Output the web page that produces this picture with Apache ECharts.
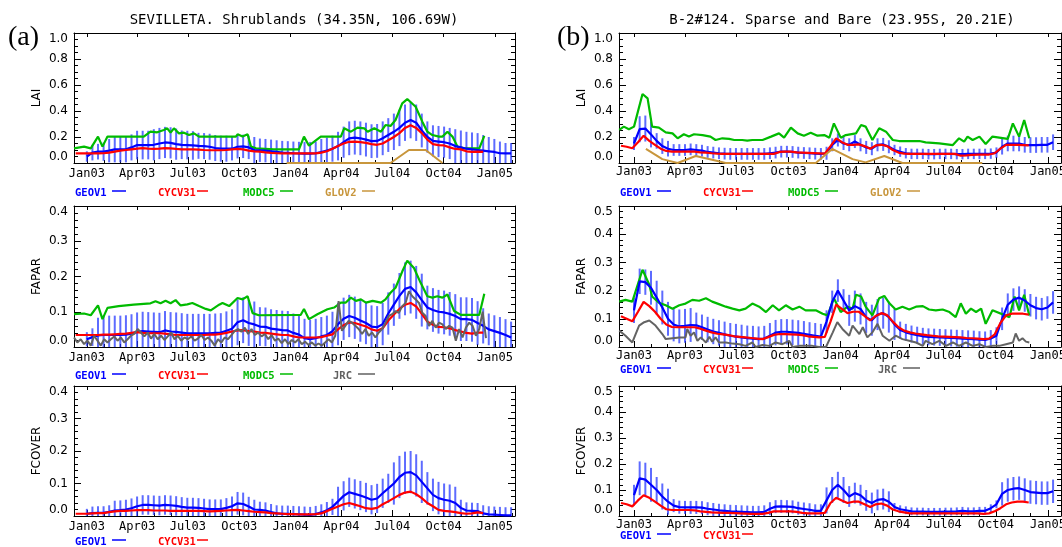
<!DOCTYPE html>
<html><head><meta charset="utf-8">
<script src="https://cdn.jsdelivr.net/npm/echarts@6/dist/echarts.min.js"></script>
<style>html,body{margin:0;padding:0;background:#fff}#c{width:1062px;height:547px}</style>
</head><body><div id="c"></div>
<script>
// ---------- axis ticks (days since 1 Jan 2003) ----------
const tickDays = [0, 90, 181, 273, 365, 456, 547, 639, 731];
const tickLabels = ['Jan03','Apr03','Jul03','Oct03','Jan04','Apr04','Jul04','Oct04','Jan05'];
const monthDays = [-31, 31, 59, 120, 151, 212, 243, 304, 334, 396, 425, 486, 517, 578, 609, 670, 700, 762];

// ---------- (a) SEVILLETA ----------
const geoLaiA = [0.05,0.08,0.087,0.087,0.095,0.105,0.105,0.105,0.12,0.138,0.138,0.138,0.14,0.15,0.158,0.155,0.145,0.14,0.138,0.135,0.132,0.13,0.125,0.115,0.11,0.11,0.11,0.125,0.128,0.12,0.1,0.098,0.095,0.09,0.085,0.08,0.078,0.075,0.073,0.072,0.072,0.075,0.085,0.095,0.11,0.13,0.16,0.19,0.195,0.19,0.18,0.168,0.17,0.19,0.215,0.24,0.27,0.31,0.33,0.31,0.25,0.2,0.17,0.165,0.16,0.15,0.13,0.12,0.11,0.105,0.1,0.095,0.09,0.085,0.075,0.074,0.074];
const geoLaiErrA = [0.04,0.06,0.06,0.07,0.09,0.1,0.1,0.1,0.1,0.11,0.11,0.11,0.12,0.12,0.12,0.12,0.12,0.11,0.11,0.11,0.1,0.1,0.1,0.1,0.1,0.1,0.09,0.09,0.09,0.09,0.1,0.09,0.09,0.09,0.09,0.09,0.09,0.09,0.09,0.09,0.09,0.09,0.1,0.1,0.1,0.11,0.12,0.13,0.13,0.13,0.13,0.13,0.13,0.13,0.13,0.14,0.14,0.14,0.14,0.14,0.13,0.12,0.12,0.12,0.12,0.12,0.13,0.13,0.13,0.13,0.13,0.12,0.11,0.1,0.09,0.08,0.08];
const cycLaiA = [0.074,0.074,0.074,0.074,0.074,0.075,0.08,0.087,0.095,0.1,0.105,0.11,0.115,0.11,0.108,0.11,0.115,0.112,0.108,0.105,0.105,0.105,0.103,0.1,0.098,0.098,0.098,0.1,0.105,0.108,0.105,0.095,0.09,0.087,0.082,0.078,0.075,0.074,0.074,0.074,0.074,0.074,0.074,0.074,0.08,0.09,0.11,0.13,0.15,0.163,0.165,0.16,0.155,0.145,0.14,0.15,0.175,0.2,0.23,0.27,0.29,0.27,0.23,0.18,0.145,0.138,0.135,0.12,0.108,0.105,0.09,0.085,0.087,0.085];
const modLaiDaysA = [-23,-5,7,20,28,37,102,114,126,138,144,150,156,165,174,183,192,201,267,270,279,288,294,303,335,380,389,398,419,455,461,473,485,497,503,515,527,535,544,553,565,574,589,601,610,619,631,637,646,655,664,676,703,712];
const modLaiA = [0.113,0.126,0.113,0.203,0.126,0.203,0.203,0.241,0.236,0.254,0.267,0.233,0.267,0.228,0.233,0.215,0.228,0.203,0.203,0.221,0.203,0.221,0.126,0.113,0.105,0.105,0.203,0.133,0.203,0.203,0.267,0.241,0.272,0.267,0.241,0.267,0.241,0.292,0.285,0.331,0.459,0.492,0.433,0.318,0.241,0.215,0.203,0.203,0.241,0.203,0.126,0.113,0.113,0.208];
const gloLaiDaysA = [358, 544, 577, 607, 637];
const gloLaiA = [0, 0, 0.1, 0.1, 0];

const geoFapA = [0.022,0.028,0.033,0.034,0.034,0.034,0.034,0.035,0.038,0.043,0.045,0.044,0.043,0.042,0.047,0.044,0.043,0.041,0.039,0.039,0.039,0.039,0.039,0.04,0.041,0.046,0.052,0.07,0.076,0.068,0.064,0.058,0.057,0.052,0.05,0.048,0.047,0.04,0.035,0.025,0.022,0.025,0.03,0.034,0.045,0.065,0.08,0.088,0.083,0.075,0.068,0.058,0.056,0.065,0.095,0.12,0.145,0.165,0.17,0.155,0.133,0.112,0.105,0.1,0.098,0.094,0.088,0.079,0.079,0.077,0.068,0.06,0.05,0.045,0.04,0.034,0.027];
const geoFapErrA = [0.02,0.025,0.05,0.055,0.055,0.055,0.055,0.055,0.055,0.055,0.055,0.055,0.055,0.055,0.055,0.055,0.055,0.055,0.055,0.055,0.055,0.055,0.055,0.055,0.055,0.055,0.055,0.065,0.065,0.065,0.065,0.055,0.055,0.055,0.055,0.055,0.055,0.055,0.055,0.055,0.055,0.055,0.055,0.055,0.055,0.06,0.06,0.06,0.06,0.06,0.06,0.06,0.06,0.06,0.06,0.06,0.065,0.075,0.075,0.075,0.075,0.062,0.062,0.062,0.062,0.062,0.062,0.062,0.062,0.062,0.062,0.05,0.045,0.045,0.045,0.045,0.045];
const cycFapA = [0.034,0.034,0.034,0.034,0.034,0.035,0.035,0.036,0.037,0.038,0.04,0.042,0.04,0.039,0.039,0.039,0.038,0.036,0.034,0.034,0.034,0.034,0.034,0.034,0.035,0.035,0.037,0.04,0.044,0.047,0.048,0.045,0.044,0.041,0.04,0.038,0.036,0.034,0.034,0.03,0.027,0.027,0.027,0.027,0.028,0.032,0.036,0.05,0.062,0.07,0.068,0.063,0.058,0.05,0.046,0.053,0.075,0.092,0.108,0.12,0.125,0.115,0.094,0.072,0.063,0.057,0.056,0.053,0.048,0.044,0.04,0.038,0.041,0.041];
const modFapDaysA = [-23,-5,7,20,28,37,57,84,114,123,132,141,150,159,168,180,189,201,213,222,237,243,255,270,279,288,297,308,383,389,398,413,431,443,455,464,473,482,491,500,512,527,535,544,553,565,574,586,598,610,619,628,637,646,658,670,703,712];
const modFapA = [0.093,0.095,0.09,0.118,0.079,0.111,0.116,0.12,0.124,0.13,0.124,0.131,0.124,0.133,0.118,0.121,0.125,0.116,0.108,0.104,0.12,0.125,0.116,0.139,0.135,0.144,0.096,0.09,0.091,0.108,0.079,0.093,0.107,0.112,0.126,0.126,0.14,0.131,0.135,0.126,0.131,0.126,0.135,0.154,0.168,0.214,0.245,0.224,0.182,0.144,0.14,0.144,0.14,0.149,0.102,0.091,0.091,0.151];
const jrcFapA = [0.027,0.013,0.022,0.008,0.018,0.004,0.032,0.018,0.004,0.022,0.013,0.022,0.03,0.018,0.027,0.013,0.022,0.032,0.037,0.051,0.041,0.03,0.041,0.024,0.037,0.022,0.032,0.02,0.03,0.041,0.022,0.032,0.018,0.027,0.022,0.03,0.018,0.024,0.034,0.02,0.027,0.018,0.004,0.022,0.013,0.027,0.022,0.034,0.046,0.051,0.043,0.055,0.037,0.051,0.034,0.041,0.03,0.037,0.022,0.034,0.018,0.024,0.011,0.022,0.008,0.02,0.013,0.022,0.008,0.015,0.006,0.013,0.004,0.01,0.004,0.013,0.022,0.013,0.032,0.13,0.046,0.06,0.074,0.069,0.06,0.051,0.037,0.051,0.032,0.041,0.027,0.041,0.051,0.069,0.088,0.093,0.102,0.097,0.116,0.125,0.158,0.144,0.135,0.125,0.097,0.088,0.06,0.074,0.055,0.069,0.064,0.051,0.06,0.055,0.018,0.051,0.027,0.055,0.069,0.06,0.032,0.051,0.1,0.025];

const geoFcvA = [0.007,0.009,0.01,0.01,0.013,0.017,0.018,0.02,0.024,0.03,0.034,0.034,0.033,0.032,0.034,0.033,0.031,0.028,0.026,0.026,0.025,0.023,0.021,0.021,0.021,0.025,0.03,0.039,0.037,0.029,0.02,0.019,0.017,0.012,0.008,0.007,0.007,0.006,0.005,0.004,0.003,0.006,0.011,0.018,0.028,0.045,0.062,0.073,0.068,0.063,0.057,0.05,0.054,0.07,0.085,0.1,0.12,0.133,0.135,0.125,0.105,0.085,0.065,0.055,0.05,0.047,0.04,0.025,0.017,0.016,0.015,0.008,0.005,0.004,0.003,0.002,0.002];
const geoFcvErrA = [0.015,0.02,0.02,0.02,0.02,0.03,0.03,0.03,0.03,0.03,0.03,0.03,0.03,0.03,0.03,0.03,0.03,0.03,0.03,0.03,0.03,0.03,0.03,0.03,0.03,0.03,0.03,0.035,0.035,0.03,0.03,0.025,0.025,0.025,0.025,0.025,0.025,0.025,0.025,0.025,0.025,0.025,0.025,0.025,0.025,0.045,0.045,0.045,0.045,0.045,0.045,0.045,0.045,0.045,0.045,0.065,0.065,0.065,0.065,0.065,0.065,0.05,0.05,0.05,0.05,0.05,0.05,0.025,0.025,0.025,0.025,0.025,0.025,0.025,0.025,0.025,0.025];
const cycFcvA = [0.007,0.007,0.007,0.008,0.009,0.009,0.012,0.014,0.016,0.016,0.017,0.018,0.018,0.018,0.017,0.017,0.017,0.016,0.016,0.016,0.016,0.016,0.016,0.015,0.014,0.015,0.016,0.017,0.018,0.019,0.017,0.015,0.013,0.012,0.011,0.009,0.008,0.007,0.006,0.006,0.005,0.005,0.005,0.006,0.008,0.015,0.022,0.029,0.036,0.04,0.035,0.03,0.024,0.022,0.025,0.036,0.045,0.055,0.065,0.072,0.075,0.067,0.055,0.04,0.03,0.019,0.016,0.014,0.012,0.009,0.007,0.008,0.011,0.009];

// ---------- (b) B-2#124 ----------
const geoLaiB = [0.15,0.26,0.265,0.22,0.17,0.13,0.11,0.1,0.1,0.1,0.105,0.1,0.095,0.085,0.08,0.075,0.072,0.07,0.07,0.07,0.07,0.07,0.07,0.07,0.075,0.08,0.087,0.087,0.085,0.08,0.077,0.075,0.072,0.07,0.075,0.14,0.177,0.15,0.14,0.165,0.14,0.12,0.11,0.14,0.143,0.125,0.1,0.087,0.075,0.07,0.07,0.07,0.068,0.068,0.07,0.07,0.07,0.068,0.068,0.07,0.07,0.07,0.07,0.072,0.08,0.125,0.15,0.15,0.15,0.14,0.138,0.138,0.14,0.14,0.16];
const geoLaiErrB = [0.05,0.1,0.1,0.1,0.06,0.06,0.06,0.045,0.045,0.045,0.045,0.045,0.045,0.045,0.045,0.045,0.045,0.045,0.045,0.045,0.045,0.045,0.045,0.045,0.045,0.045,0.045,0.045,0.045,0.045,0.045,0.045,0.045,0.045,0.05,0.05,0.05,0.05,0.05,0.05,0.05,0.05,0.05,0.05,0.05,0.05,0.04,0.04,0.04,0.04,0.04,0.04,0.04,0.04,0.04,0.04,0.04,0.04,0.04,0.04,0.04,0.04,0.04,0.04,0.04,0.06,0.06,0.06,0.06,0.06,0.06,0.06,0.06,0.06,0.06];
const cycLaiB = [0.133,0.125,0.113,0.16,0.21,0.17,0.14,0.11,0.093,0.087,0.087,0.087,0.087,0.087,0.082,0.08,0.075,0.072,0.07,0.07,0.07,0.07,0.07,0.07,0.07,0.07,0.07,0.07,0.085,0.087,0.087,0.082,0.08,0.078,0.076,0.074,0.072,0.13,0.19,0.16,0.14,0.14,0.143,0.13,0.11,0.135,0.14,0.13,0.1,0.08,0.072,0.07,0.07,0.07,0.07,0.07,0.07,0.07,0.07,0.07,0.056,0.058,0.062,0.065,0.065,0.065,0.075,0.11,0.14,0.14,0.14,0.138,0.135];
const modLaiDaysB = [-26,-18,-9,0,15,24,32,44,56,68,77,88,97,106,121,135,144,156,168,177,191,200,209,227,242,256,265,277,289,300,312,324,336,345,353,365,374,392,401,409,421,433,445,457,468,504,515,539,563,574,583,589,598,610,621,633,660,669,680,689,698];
const modLaiB = [0.254,0.28,0.259,0.28,0.531,0.497,0.28,0.272,0.236,0.228,0.19,0.221,0.203,0.221,0.215,0.203,0.177,0.19,0.185,0.177,0.177,0.172,0.177,0.177,0.203,0.228,0.195,0.272,0.228,0.21,0.233,0.21,0.215,0.195,0.305,0.195,0.215,0.228,0.292,0.28,0.177,0.267,0.241,0.177,0.169,0.169,0.159,0.151,0.138,0.19,0.164,0.203,0.177,0.203,0.146,0.203,0.185,0.305,0.203,0.331,0.19];
const gloLaiDaysB = [21,50,77,109,138,162,321,350,386,409,442,474,615];
const gloLaiB = [0.108,0.03,0,0.054,0.025,0,0,0.108,0.03,0.005,0.054,0,0];

const geoFapB = [0.13,0.233,0.23,0.21,0.175,0.14,0.1,0.08,0.073,0.075,0.078,0.077,0.07,0.062,0.055,0.05,0.045,0.04,0.037,0.034,0.031,0.03,0.028,0.03,0.04,0.051,0.054,0.054,0.052,0.05,0.047,0.043,0.04,0.037,0.09,0.16,0.2,0.165,0.13,0.145,0.135,0.105,0.095,0.115,0.12,0.106,0.08,0.06,0.052,0.046,0.042,0.038,0.036,0.035,0.034,0.033,0.032,0.031,0.03,0.029,0.028,0.026,0.025,0.03,0.04,0.1,0.15,0.168,0.175,0.165,0.148,0.138,0.134,0.14,0.158];
const geoFapErrB = [0.045,0.045,0.045,0.06,0.06,0.06,0.06,0.06,0.06,0.06,0.06,0.045,0.045,0.045,0.045,0.045,0.045,0.045,0.045,0.045,0.045,0.045,0.045,0.045,0.045,0.045,0.045,0.045,0.045,0.045,0.045,0.045,0.045,0.045,0.04,0.04,0.04,0.04,0.055,0.055,0.055,0.055,0.055,0.055,0.055,0.055,0.055,0.03,0.03,0.03,0.03,0.03,0.03,0.03,0.03,0.03,0.03,0.03,0.03,0.03,0.03,0.03,0.03,0.03,0.03,0.04,0.04,0.04,0.04,0.04,0.04,0.04,0.04,0.04,0.04];
const cycFapB = [0.109,0.1,0.091,0.125,0.16,0.145,0.125,0.1,0.08,0.071,0.07,0.07,0.07,0.07,0.065,0.058,0.052,0.047,0.045,0.042,0.038,0.036,0.034,0.032,0.03,0.028,0.035,0.043,0.046,0.046,0.045,0.044,0.042,0.038,0.036,0.034,0.036,0.09,0.15,0.135,0.12,0.125,0.125,0.11,0.094,0.11,0.12,0.113,0.09,0.07,0.058,0.052,0.048,0.045,0.042,0.04,0.038,0.037,0.036,0.035,0.034,0.032,0.031,0.03,0.028,0.03,0.045,0.085,0.112,0.118,0.118,0.118,0.115];
const modFapDaysB = [-26,-15,-3,15,27,32,44,56,68,80,91,103,115,127,138,150,162,174,186,197,209,221,233,245,256,268,280,292,303,321,333,342,353,365,377,386,392,401,409,421,433,442,451,462,474,486,498,510,521,533,545,557,568,577,586,595,604,613,621,633,663,672,680,689,698];
const modFapB = [0.161,0.167,0.161,0.274,0.221,0.179,0.157,0.148,0.136,0.148,0.154,0.167,0.164,0.173,0.161,0.152,0.143,0.136,0.13,0.136,0.154,0.143,0.124,0.148,0.13,0.148,0.133,0.143,0.13,0.13,0.118,0.112,0.173,0.124,0.143,0.136,0.185,0.179,0.143,0.112,0.173,0.181,0.155,0.133,0.143,0.133,0.143,0.145,0.133,0.13,0.133,0.124,0.106,0.155,0.118,0.136,0.124,0.136,0.082,0.13,0.106,0.179,0.13,0.185,0.112];
const jrcFapDaysB = [-26,-15,-3,9,18,27,38,50,56,68,80,91,94,100,106,112,118,127,133,138,144,150,162,174,186,197,209,215,227,239,250,262,274,280,292,303,315,327,339,351,359,368,380,386,398,404,412,421,430,439,451,462,474,486,498,510,515,527,539,551,563,574,586,598,610,621,633,645,657,669,674,680,686,692,698];
const jrcFapB = [0.058,0.04,0.016,0.076,0.088,0.094,0.076,0.046,0.028,0.031,0.034,0.034,0.064,0.04,0.052,0.022,0.034,0.016,0.036,0.019,0.034,0.016,0.016,0.012,0.01,0.004,0.016,0,0.007,0.004,0.016,0.01,0.022,0,0.004,0.004,0.004,0,0,0.052,0.088,0.064,0.04,0.076,0.046,0.07,0.034,0.052,0.082,0.04,0.022,0.04,0.028,0.022,0.016,0.004,0.022,0.01,0.022,0.004,0.016,0.004,0.016,0.004,0.01,0,0.004,0.004,0.01,0.016,0.048,0.022,0.031,0.019,0.016];

const geoFcvB = [0.08,0.145,0.14,0.12,0.1,0.075,0.055,0.04,0.034,0.033,0.033,0.033,0.032,0.028,0.025,0.022,0.02,0.018,0.017,0.016,0.015,0.014,0.014,0.016,0.028,0.036,0.037,0.036,0.035,0.03,0.027,0.024,0.02,0.02,0.06,0.1,0.12,0.1,0.075,0.088,0.08,0.06,0.05,0.062,0.065,0.055,0.035,0.026,0.022,0.018,0.017,0.017,0.016,0.016,0.016,0.017,0.017,0.018,0.02,0.018,0.018,0.02,0.02,0.03,0.045,0.085,0.1,0.105,0.107,0.1,0.092,0.09,0.088,0.088,0.095];
const geoFcvErrB = [0.04,0.065,0.065,0.065,0.05,0.05,0.05,0.025,0.025,0.025,0.025,0.025,0.025,0.025,0.025,0.025,0.025,0.025,0.025,0.025,0.025,0.025,0.025,0.025,0.025,0.025,0.025,0.025,0.025,0.025,0.025,0.025,0.025,0.025,0.05,0.05,0.05,0.05,0.04,0.04,0.04,0.04,0.04,0.04,0.04,0.04,0.015,0.015,0.015,0.015,0.015,0.015,0.015,0.015,0.015,0.015,0.015,0.015,0.015,0.015,0.015,0.015,0.015,0.015,0.015,0.045,0.045,0.045,0.045,0.045,0.045,0.045,0.045,0.045,0.045];
const cycFcvB = [0.05,0.045,0.037,0.06,0.08,0.07,0.055,0.04,0.026,0.023,0.023,0.023,0.023,0.022,0.018,0.016,0.014,0.013,0.012,0.012,0.011,0.01,0.009,0.008,0.008,0.008,0.012,0.018,0.018,0.018,0.018,0.016,0.012,0.01,0.01,0.01,0.012,0.05,0.07,0.06,0.05,0.055,0.055,0.045,0.035,0.045,0.048,0.04,0.025,0.018,0.014,0.01,0.01,0.01,0.01,0.01,0.01,0.01,0.01,0.01,0.01,0.01,0.01,0.01,0.008,0.01,0.018,0.03,0.045,0.052,0.055,0.055,0.052];

// ---------- regular sampling grids (days) ----------
const seq = (start, step, n) => Array.from({length: n}, (_, i) => start + i * step);
const geoDaysA = seq(0, 10, geoLaiA.length);
const cycDaysA = seq(-20, 10, cycLaiA.length);
const jrcDaysA = seq(-23, 6, jrcFapA.length);
const geoDaysB = seq(0, 10, geoLaiB.length);
const cycDaysB = seq(-23, 10, cycLaiB.length);

// ---------- styling ----------
const C = {geo:'#0000ff', cyc:'#ff0000', mod:'#00bb00', glo:'#c8963c', jrc:'#636363', err:'rgba(30,50,255,0.72)'};
const FONT = '"DejaVu Sans", sans-serif';
const MONO = '"DejaVu Sans Mono", monospace';

const panels = [
  {left:74, top:33, w:441, h:130, xmin:-23, xmax:767, ymax:1.0, yint:0.2, minor:4, name:'LAI', lm:5},
  {left:74, top:206, w:441, h:141, xmin:-23, xmax:767, ymax:0.4, yint:0.1, minor:5, name:'FAPAR', lm:5},
  {left:74, top:386, w:441, h:130, xmin:-23, xmax:767, ymax:0.4, yint:0.1, minor:5, name:'FCOVER', lm:5},
  {left:619, top:33, w:442, h:130, xmin:-26.5, xmax:754, ymax:1.0, yint:0.2, minor:4, name:'LAI', lm:3},
  {left:619, top:206, w:442, h:141, xmin:-26.5, xmax:754, ymax:0.5, yint:0.1, minor:5, name:'FAPAR', lm:3},
  {left:619, top:386, w:442, h:130, xmin:-26.5, xmax:754, ymax:0.5, yint:0.1, minor:5, name:'FCOVER', lm:3}
];

const grid = [], xAxis = [], yAxis = [], series = [];
const blk = {color:'#000', width:1};
panels.forEach((p, g) => {
  grid.push({left:p.left, top:p.top, width:p.w, height:p.h, containLabel:false, outerBoundsMode:'none'});
  xAxis.push({type:'value', gridIndex:g, min:p.xmin, max:p.xmax, position:'bottom',
    axisLine:{show:true, onZero:false, lineStyle:blk},
    axisTick:{show:true, inside:true, length:6, customValues:tickDays, lineStyle:blk},
    axisLabel:{show:true, customValues:tickDays, margin:p.lm, color:'#000', fontSize:12, fontFamily:MONO,
      formatter: v => { const i = tickDays.indexOf(Math.round(v)); return i >= 0 ? tickLabels[i] : ''; }},
    splitLine:{show:false}});
  xAxis.push({type:'value', gridIndex:g, min:p.xmin, max:p.xmax, position:'bottom',
    axisLine:{show:false, onZero:false},
    axisTick:{show:true, inside:true, length:3, customValues:monthDays, lineStyle:blk},
    axisLabel:{show:false}, splitLine:{show:false}});
  xAxis.push({type:'value', gridIndex:g, min:p.xmin, max:p.xmax, position:'top',
    axisLine:{show:true, onZero:false, lineStyle:blk},
    axisTick:{show:true, inside:true, length:4, customValues:tickDays, lineStyle:blk},
    axisLabel:{show:false}, splitLine:{show:false}});
  yAxis.push({type:'value', gridIndex:g, min:0, max:p.ymax, interval:p.yint, position:'left',
    axisLine:{show:true, onZero:false, lineStyle:blk},
    axisTick:{show:true, inside:true, length:7, lineStyle:blk},
    minorTick:{show:true, splitNumber:p.minor, length:4, lineStyle:blk},
    axisLabel:{show:true, margin:6, color:'#000', fontSize:12, fontFamily:FONT,
      verticalAlignMinLabel:'bottom', verticalAlignMaxLabel:'top',
      formatter: v => v.toFixed(1)},
    splitLine:{show:false},
    name:p.name, nameLocation:'middle', nameRotate:90, nameGap:31,
    nameTextStyle:{color:'#000', fontSize:12, fontFamily:FONT}});
  yAxis.push({type:'value', gridIndex:g, min:0, max:p.ymax, interval:p.yint, position:'right',
    axisLine:{show:true, onZero:false, lineStyle:blk},
    axisTick:{show:true, inside:true, length:7, lineStyle:blk},
    minorTick:{show:true, splitNumber:p.minor, length:4, lineStyle:blk},
    axisLabel:{show:false}, splitLine:{show:false}});
});

const zip = (d, v) => d.map((x, i) => [x, v[i]]);
function line(g, days, vals, color, width, z) {
  series.push({type:'line', xAxisIndex:g*3, yAxisIndex:g*2, data:zip(days, vals), symbol:'none', showSymbol:false,
    lineStyle:{color:color, width:width}, itemStyle:{color:color}, z:z, clip:true, silent:true, animation:false});
}
function errBars(g, days, vals, errs) {
  const ymax = panels[g].ymax;
  series.push({type:'custom', xAxisIndex:g*3, yAxisIndex:g*2, clip:true, silent:true, z:1, animation:false,
    data: days.map((d, i) => [d, vals[i], errs[i]]),
    renderItem: (params, api) => {
      const x = api.value(0), v = api.value(1), e = api.value(2);
      const a = api.coord([x, Math.max(0, v - e)]);
      const b = api.coord([x, Math.min(ymax, v + e)]);
      return {type:'line', shape:{x1:a[0], y1:a[1], x2:b[0], y2:b[1]}, style:{stroke:C.err, lineWidth:2}};
    }});
}

// (a)
errBars(0, geoDaysA, geoLaiA, geoLaiErrA);
line(0, modLaiDaysA, modLaiA, C.mod, 2.2, 2);
line(0, geoDaysA, geoLaiA, C.geo, 2.2, 3);
line(0, cycDaysA, cycLaiA, C.cyc, 2.2, 4);
line(0, gloLaiDaysA, gloLaiA, C.glo, 2, 5);

errBars(1, geoDaysA, geoFapA, geoFapErrA);
line(1, modFapDaysA, modFapA, C.mod, 2.2, 2);
line(1, geoDaysA, geoFapA, C.geo, 2.2, 3);
line(1, cycDaysA, cycFapA, C.cyc, 2.2, 4);
line(1, jrcDaysA, jrcFapA, C.jrc, 2, 5);

errBars(2, geoDaysA, geoFcvA, geoFcvErrA);
line(2, geoDaysA, geoFcvA, C.geo, 2.2, 3);
line(2, cycDaysA, cycFcvA, C.cyc, 2.2, 4);

// (b)
errBars(3, geoDaysB, geoLaiB, geoLaiErrB);
line(3, modLaiDaysB, modLaiB, C.mod, 2.2, 2);
line(3, geoDaysB, geoLaiB, C.geo, 2.2, 3);
line(3, cycDaysB, cycLaiB, C.cyc, 2.2, 4);
line(3, gloLaiDaysB, gloLaiB, C.glo, 2, 5);

errBars(4, geoDaysB, geoFapB, geoFapErrB);
line(4, modFapDaysB, modFapB, C.mod, 2.2, 2);
line(4, geoDaysB, geoFapB, C.geo, 2.2, 3);
line(4, cycDaysB, cycFapB, C.cyc, 2.2, 4);
line(4, jrcFapDaysB, jrcFapB, C.jrc, 2, 5);

errBars(5, geoDaysB, geoFcvB, geoFcvErrB);
line(5, geoDaysB, geoFcvB, C.geo, 2.2, 3);
line(5, cycDaysB, cycFcvB, C.cyc, 2.2, 4);

// ---------- titles, panel letters, legend rows ----------
const graphic = [];
function txt(x, y, s, fill, font, align) {
  graphic.push({type:'text', x:x, y:y, silent:true,
    style:{text:s, fill:fill, font:font, align:align || 'left', verticalAlign:'middle'}});
}
function seg(x1, x2, y, color) {
  graphic.push({type:'line', silent:true, shape:{x1:x1, y1:y, x2:x2, y2:y}, style:{stroke:color, lineWidth:1.5}});
}
txt(294, 20, 'SEVILLETA. Shrublands (34.35N, 106.69W)', '#000', '14px ' + MONO, 'center');
txt(842, 20, 'B-2#124. Sparse and Bare (23.95S, 20.21E)', '#000', '14px ' + MONO, 'center');
txt(8, 38, '(a)', '#000', '28px "Liberation Serif", serif');
txt(557, 38, '(b)', '#000', '28px "Liberation Serif", serif');

const LF = 'bold 10.5px ' + MONO;
function legendRow(x0, y, items) {
  // items: [label, color, textX, lineX1, lineX2]
  items.forEach(it => { txt(x0 + it[2], y, it[0], it[1], LF); seg(x0 + it[3], x0 + it[4], y - 2, it[1]); });
}
const rowTop = [['GEOV1', C.geo, 0, 37, 51], ['CYCV31', C.cyc, 83, 122, 133], ['MODC5', C.mod, 168, 205, 218], ['GLOV2', C.glo, 250, 287, 300]];
const rowMid = [['GEOV1', C.geo, 0, 37, 51], ['CYCV31', C.cyc, 83, 122, 133], ['MODC5', C.mod, 168, 205, 218], ['JRC', '#606060', 258, 283, 300]];
const rowBot = [['GEOV1', C.geo, 0, 37, 51], ['CYCV31', C.cyc, 83, 122, 133]];
legendRow(75, 193, rowTop);
legendRow(75, 376, rowMid);
legendRow(75, 542, rowBot);
legendRow(620, 193, rowTop);
legendRow(620, 370, rowMid);
legendRow(620, 536, rowBot);

const chart = echarts.init(document.getElementById('c'), null, {renderer:'canvas'});
chart.setOption({animation:false, backgroundColor:'#fff', grid, xAxis, yAxis, series, graphic});
</script>
</body></html>
